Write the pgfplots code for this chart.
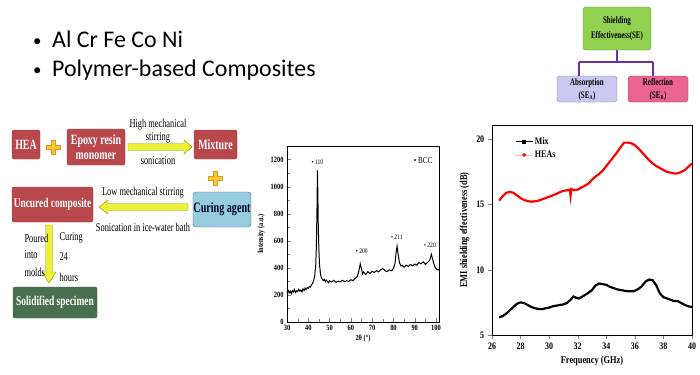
\documentclass[border=0pt]{standalone}
\usepackage{pgfplots}
\pgfplotsset{compat=1.18}
\usepackage{fontspec}
\setmainfont{Liberation Serif}
\newfontfamily\calfont{Carlito}
\newfontfamily\fc[FakeStretch=0.8]{Liberation Serif}
\newfontfamily\fcc[FakeStretch=0.7]{Liberation Serif}
\definecolor{boxred}{RGB}{185,72,76}
\definecolor{boxgreen}{RGB}{72,112,78}
\definecolor{cureblue}{RGB}{150,205,222}
\definecolor{cureborder}{RGB}{70,110,140}
\definecolor{arry}{RGB}{238,242,55}
\definecolor{arrb}{RGB}{150,150,50}
\definecolor{plusy}{RGB}{255,200,50}
\definecolor{pluso}{RGB}{225,150,30}
\definecolor{segreen}{RGB}{146,208,80}
\definecolor{lav}{RGB}{200,200,240}
\definecolor{pinkr}{RGB}{235,100,145}
\definecolor{purp}{RGB}{112,48,160}
\begin{document}
\begin{tikzpicture}
\path[use as bounding box, fill=white] (0,0) rectangle (700bp,-375bp);
\begin{scope}[x=1bp,y=-1bp]
% bullets
\node[anchor=base west, inner sep=0] at (33,46) {\calfont\fontsize{17}{20}\selectfont •};
\node[anchor=base west, inner sep=0] at (52,47) {\calfont\fontsize{24}{28}\selectfont Al Cr Fe Co Ni};
\node[anchor=base west, inner sep=0] at (33,75) {\calfont\fontsize{17}{20}\selectfont •};
\node[anchor=base west, inner sep=0] at (52,76) {\calfont\fontsize{24}{28}\selectfont Polymer-based Composites};
% SE diagram
\draw[purp, line width=1.2] (617,50) -- (617,62) (579,62) -- (653,62) (579,62) -- (579,76) (653,62) -- (653,76);
\draw[segreen!70!black, fill=segreen, rounded corners=3] (583,7) rectangle (651,50);
\node[align=center, font=\fcc\bfseries\fontsize{10}{15}\selectfont] at (617,29) {Shielding\\Effectiveness(SE)};
\draw[lav!70!black, fill=lav, rounded corners=3] (557,76) rectangle (617,102);
\node[align=center, font=\fcc\bfseries\fontsize{10}{12.5}\selectfont] at (587,89.5) {Absorption\\(SE\textsubscript{\fontsize{6}{5}\selectfont A})};
\draw[pinkr!70!black, fill=pinkr, rounded corners=3] (628,76) rectangle (688,102);
\node[align=center, font=\fcc\bfseries\fontsize{10}{12.5}\selectfont] at (658,89.5) {Reflection\\(SE\textsubscript{\fontsize{6}{5}\selectfont R})};
% flowchart boxes
\draw[boxred!80!black, fill=boxred, rounded corners=2] (12,130) rectangle (40,159);
\node[text=white, font=\fcc\bfseries\fontsize{14.2}{15}\selectfont] at (26,144.5) {HEA};
\draw[boxred!80!black, fill=boxred, rounded corners=2] (67,129) rectangle (125,165);
\node[text=white, align=center, font=\fcc\bfseries\fontsize{14.2}{15}\selectfont] at (96,147) {Epoxy resin\\monomer};
\draw[boxred!80!black, fill=boxred, rounded corners=2] (194,130) rectangle (237,159);
\node[text=white, font=\fcc\bfseries\fontsize{14.2}{15}\selectfont] at (215.5,144.5) {Mixture};
\draw[cureborder, fill=cureblue, rounded corners=3] (193,192) rectangle (251,227);
\node[text=black!85!blue, font=\fcc\bfseries\fontsize{14.5}{15}\selectfont] at (222,209.5) {Curing agent};
\draw[boxred!80!black, fill=boxred, rounded corners=2] (12,187) rectangle (93,222);
\node[text=white, font=\fcc\bfseries\fontsize{13.5}{15}\selectfont] at (52.5,204.5) {Uncured composite};
\draw[boxgreen!80!black, fill=boxgreen, rounded corners=2] (13,287) rectangle (97,318);
\node[text=white, font=\fcc\bfseries\fontsize{13.5}{15}\selectfont] at (55,302.5) {Solidified specimen};
% plus signs
\draw[pluso, fill=plusy, line width=0.6] (51,140) -- (55,140) -- (55,145) -- (60,145) -- (60,149) -- (55,149) -- (55,154) -- (51,154) -- (51,149) -- (46,149) -- (46,145) -- (51,145) -- cycle;
\draw[pluso, fill=plusy, line width=0.6] (213,171) -- (217,171) -- (217,176) -- (222,176) -- (222,180) -- (217,180) -- (217,185) -- (213,185) -- (213,180) -- (208,180) -- (208,176) -- (213,176) -- cycle;
% arrows
\draw[arrb, fill=arry, line width=0.5] (128,143.5) -- (184,143.5) -- (184,140) -- (192,147) -- (184,154) -- (184,150.5) -- (128,150.5) -- cycle;
\draw[arrb, fill=arry, line width=0.5] (188,203.5) -- (108,203.5) -- (108,200) -- (99,207) -- (108,214) -- (108,210.5) -- (188,210.5) -- cycle;
\draw[arrb, fill=arry, line width=0.5] (45.5,225) -- (45.5,272) -- (42,272) -- (49,283) -- (56,272) -- (52.5,272) -- (52.5,225) -- cycle;
% arrow texts
\node[font=\fcc\fontsize{12}{13}\selectfont] at (158,125) {High mechanical};
\node[font=\fcc\fontsize{12}{13}\selectfont] at (158,138) {stirring};
\node[font=\fcc\fontsize{12}{13}\selectfont] at (158,161) {sonication};
\node[font=\fcc\fontsize{12}{13}\selectfont] at (143,193) {Low mechanical stirring};
\node[font=\fcc\fontsize{12}{13}\selectfont] at (143,227) {Sonication in ice-water bath};
\node[anchor=west, font=\fcc\fontsize{12}{13}\selectfont] at (21,238) {Poured};
\node[anchor=west, font=\fcc\fontsize{12}{13}\selectfont] at (21,255) {into};
\node[anchor=west, font=\fcc\fontsize{12}{13}\selectfont] at (21,272) {molds};
\node[anchor=west, font=\fcc\fontsize{12}{13}\selectfont] at (56,238) {Curing};
\node[anchor=west, font=\fcc\fontsize{12}{13}\selectfont] at (56,257) {24};
\node[anchor=west, font=\fcc\fontsize{12}{13}\selectfont] at (56,277) {hours};
\end{scope}
% XRD
\begin{axis}[at={(287bp,-322bp)}, anchor=south west, scale only axis,
  width=152bp, height=176bp, xmin=30, xmax=101.4, ymin=0, ymax=1300,
  xtick={30,40,...,100}, ytick={0,200,...,1200}, minor x tick num=1, minor y tick num=1,
  tick align=inside, xtick pos=bottom, ytick pos=left,
  /pgf/number format/assume math mode=true,
  /pgf/number format/set thousands separator={},
  scaled y ticks=false,
  tick label style={font=\fc\bfseries\fontsize{8}{9}\selectfont},
  xlabel={2θ (°)}, ylabel={Intensity (a.u.)},
  label style={font=\fc\bfseries\fontsize{8}{9}\selectfont},
  xlabel style={yshift=3pt}, ylabel style={yshift=-1pt},
  clip=false]
\addplot[black, line width=1pt] coordinates {
(30,220)(30.5,235)(31,215)(31.5,228)(32,210)(32.5,232)(33,222)(33.5,240)(34,218)(34.5,230)
(35,225)(35.5,242)(36,228)(36.5,236)(37,222)(37.5,245)(38,232)(38.5,250)(39,240)(39.5,255)
(40,248)(40.5,262)(41,258)(41.5,275)(42,285)(42.5,305)(43,340)(43.5,420)(43.8,560)(44.1,850)
(44.3,1120)(44.5,950)(44.7,700)(45,520)(45.3,420)(45.7,360)(46,335)(46.5,320)(47,305)(47.5,315)
(48,298)(48.5,310)(49,300)(49.5,290)(50,305)(51,295)(52,308)(53,292)(54,302)(55,296)
(56,308)(57,298)(58,305)(59,300)(60,312)(61,305)(62,322)(63,335)(63.8,380)(64.4,430)
(65,390)(65.5,355)(66,370)(67,350)(68,372)(69,358)(70,375)(71,365)(72,380)(73,370)
(74,385)(75,395)(76,380)(77,372)(78,385)(79,378)(80,395)(80.7,430)(81.3,520)(81.7,560)
(82.2,500)(82.8,440)(83.5,415)(84,420)(85,405)(86,420)(87,410)(88,425)(89,415)(90,428)
(91,420)(92,440)(93,430)(94,445)(95,425)(96,440)(97,455)(97.8,500)(98.3,470)(99,430)
(99.5,405)(100,395)(100.5,385)(101,390)(101.4,380)};
\node[anchor=west, inner sep=0, font=\fc\fontsize{7}{7}\selectfont] at (axis cs:41.5,1180) {• 110};
\node[anchor=west, inner sep=0, font=\fc\fontsize{7}{7}\selectfont] at (axis cs:62.3,520) {• 200};
\node[anchor=west, inner sep=0, font=\fc\fontsize{7}{7}\selectfont] at (axis cs:78.8,625) {• 211};
\node[anchor=west, inner sep=0, font=\fc\fontsize{7}{7}\selectfont] at (axis cs:94.3,570) {• 220};
\node[anchor=west, inner sep=0, font=\fc\fontsize{9}{9}\selectfont] at (axis cs:89.5,1190) {• BCC};
\end{axis}
% EMI
\begin{axis}[at={(492bp,-335bp)}, anchor=south west, scale only axis,
  width=200bp, height=210bp, xmin=26, xmax=40, ymin=5, ymax=21.1,
  xtick={26,28,...,40}, ytick={5,10,15,20},
  tick align=outside, xtick pos=bottom, ytick pos=left,
  /pgf/number format/assume math mode=true,
  tick label style={font=\fc\bfseries\fontsize{10}{12}\selectfont},
  xlabel={Frequency (GHz)}, ylabel={EMI shielding effectiveness (dB)},
  label style={font=\fc\bfseries\fontsize{10.5}{12}\selectfont},
  legend style={at={(0.1,0.96)}, anchor=north west, draw=none, fill=none,
    font=\fc\bfseries\fontsize{10}{12}\selectfont, row sep=1pt},
  legend cell align=left]
\addplot[black, line width=2.2pt, forget plot] coordinates {
(26.5,6.35)(26.75,6.45)(27.0,6.65)(27.25,6.9)(27.5,7.15)(27.75,7.4)(28.0,7.5)(28.25,7.45)
(28.5,7.3)(28.75,7.15)(29.0,7.05)(29.25,7.0)(29.5,6.98)(29.75,7.05)(30.0,7.1)(30.25,7.2)
(30.5,7.25)(30.75,7.3)(31.0,7.35)(31.25,7.45)(31.5,7.7)(31.7,7.95)(31.9,7.85)(32.1,7.8)
(32.4,8.0)(32.7,8.2)(33.0,8.45)(33.25,8.8)(33.5,8.95)(33.75,8.9)(34.0,8.85)(34.25,8.7)
(34.5,8.6)(34.75,8.5)(35.0,8.45)(35.5,8.35)(35.9,8.35)(36.2,8.5)(36.5,8.75)(36.75,9.1)
(37.0,9.25)(37.25,9.2)(37.5,8.8)(37.75,8.2)(38.0,7.9)(38.25,7.8)(38.5,7.7)(38.75,7.6)
(39.0,7.6)(39.25,7.45)(39.5,7.3)(39.75,7.2)(40.0,7.15)};
\addplot[red, line width=2.2pt, forget plot] coordinates {
(26.5,15.3)(26.75,15.65)(27.0,15.9)(27.25,15.97)(27.5,15.9)(27.75,15.7)(28.0,15.5)(28.25,15.35)
(28.5,15.27)(28.75,15.22)(29.0,15.25)(29.25,15.3)(29.5,15.4)(29.75,15.5)(30.0,15.6)(30.25,15.7)
(30.5,15.82)(30.75,15.95)(31.0,16.05)(31.25,16.1)(31.45,16.15)(31.5,15.7)(31.55,16.2)(31.75,16.1)
(32.0,16.15)(32.25,16.3)(32.5,16.45)(32.75,16.6)(33.0,16.9)(33.25,17.15)(33.5,17.35)(33.75,17.6)
(34.0,17.95)(34.25,18.3)(34.5,18.65)(34.75,19.0)(35.0,19.4)(35.25,19.75)(35.5,19.75)(35.75,19.7)
(36.0,19.55)(36.25,19.3)(36.5,19.0)(36.75,18.7)(37.0,18.4)(37.25,18.15)(37.5,17.95)(37.75,17.8)
(38.0,17.65)(38.25,17.5)(38.5,17.45)(38.75,17.38)(39.0,17.4)(39.25,17.5)(39.5,17.65)(39.75,17.9)
(40.0,18.15)};
\addlegendimage{black, line width=0.8pt, mark=square*, mark size=1.5pt}
\addlegendentry{Mix}
\addlegendimage{red!30, line width=0.8pt, mark=*, mark size=1.5pt, mark options={red}}
\addlegendentry{HEAs}
\end{axis}
\end{tikzpicture}
\end{document}
